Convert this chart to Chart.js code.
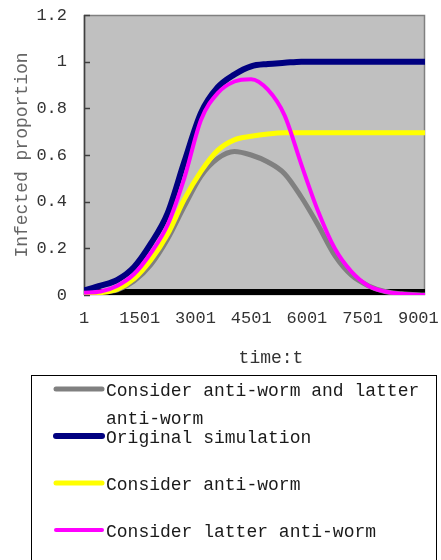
<!DOCTYPE html>
<html>
<head>
<meta charset="utf-8">
<script src="https://cdn.jsdelivr.net/npm/chart.js@4.4.1/dist/chart.umd.min.js"></script>
<style>
  html, body { margin: 0; padding: 0; background: #fff; }
  canvas { display: block; }
</style>
</head>
<body>
<canvas id="chart" width="441" height="560"></canvas>
<script>
// time steps (x) and infected proportion for each simulation
const timeSteps = [1, 450, 900, 1350, 1800, 2250, 2700, 3150, 3600, 4050, 4500,
                   4950, 5400, 5850, 6300, 6750, 7200, 7650, 8100, 8550, 9180];
const bothAntiWorm   = [0.01, 0.012, 0.022, 0.06, 0.13, 0.24, 0.38, 0.51, 0.585, 0.615, 0.6,
                        0.57, 0.52, 0.42, 0.3, 0.17, 0.085, 0.04, 0.015, 0.005, 0];
const originalSim    = [0.02, 0.04, 0.065, 0.12, 0.22, 0.35, 0.57, 0.78, 0.89, 0.945, 0.98,
                        0.99, 0.995, 1, 1, 1, 1, 1, 1, 1, 1];
const antiWorm       = [0.005, 0.01, 0.025, 0.07, 0.15, 0.26, 0.41, 0.53, 0.62, 0.665, 0.68,
                        0.69, 0.695, 0.695, 0.695, 0.695, 0.695, 0.695, 0.695, 0.695, 0.695];
const latterAntiWorm = [0.01, 0.015, 0.04, 0.09, 0.18, 0.3, 0.5, 0.75, 0.865, 0.915, 0.925,
                        0.88, 0.77, 0.56, 0.36, 0.2, 0.1, 0.04, 0.015, 0.005, 0];
// flat black series along the bottom (its legend entry falls outside the picture)
const baselineT = [1, 9180];
const baseline  = [0.013, 0.013];

const seriesNames = ['Consider anti-worm and latter anti-worm', 'Original simulation',
                     'Consider anti-worm', 'Consider latter anti-worm'];
const xTickValues = [1, 1501, 3001, 4501, 6001, 7501, 9001];
const yTickValues = [0, 0.2, 0.4, 0.6, 0.8, 1, 1.2];

const FONT = "'Liberation Mono', monospace";

function pts(xs, ys) {
    return xs.map((x, i) => ({ x: x, y: ys[i] }));
}

function noPad(s) {
    s.paddingLeft = 0;
    s.paddingRight = 0;
    s.paddingTop = 0;
    s.paddingBottom = 0;
}

const plotFrame = {
    id: 'plotFrame',
    beforeDatasetsDraw(chart) {
        const { ctx, chartArea: a } = chart;
        ctx.save();
        ctx.fillStyle = '#c0c0c0';
        ctx.fillRect(a.left, a.top, a.right - a.left, a.bottom - a.top);
        ctx.strokeStyle = '#808080';
        ctx.lineWidth = 1.5;
        ctx.strokeRect(a.left + 0.5, a.top + 0.5, a.right - a.left - 1, a.bottom - a.top - 1);
        // left axis line with inward tick marks
        ctx.strokeStyle = '#404040';
        ctx.lineWidth = 1.5;
        ctx.beginPath();
        ctx.moveTo(a.left + 0.5, a.top);
        ctx.lineTo(a.left + 0.5, a.bottom);
        yTickValues.forEach(v => {
            const py = Math.round(chart.scales.y.getPixelForValue(v)) + 0.5;
            ctx.moveTo(a.left, py);
            ctx.lineTo(a.left + 6, py);
        });
        ctx.stroke();
        ctx.restore();
    },
    afterDraw(chart) {
        const ctx = chart.ctx;
        ctx.save();
        // x axis title
        ctx.font = '18px ' + FONT;
        ctx.fillStyle = '#333';
        ctx.textAlign = 'center';
        ctx.textBaseline = 'middle';
        ctx.fillText('time:t', 271, 358);

        // legend box
        ctx.strokeStyle = '#000';
        ctx.lineWidth = 1;
        ctx.strokeRect(31.5, 375.5, 405, 200);
        ctx.textAlign = 'left';
        ctx.fillStyle = '#1a1a1a';
        const ds = chart.data.datasets.filter(d => seriesNames.includes(d.label));
        ds.forEach((d, i) => {
            const y = 389 + i * 47;
            ctx.strokeStyle = d.borderColor;
            ctx.lineWidth = d.borderWidth;
            ctx.lineCap = 'round';
            ctx.beginPath();
            ctx.moveTo(56, y);
            ctx.lineTo(102, y);
            ctx.stroke();
            // simple word wrap
            const words = d.label.split(' ');
            const lines = [];
            let cur = '';
            words.forEach(w => {
                const test = cur ? cur + ' ' + w : w;
                if (ctx.measureText(test).width > 320 && cur) {
                    lines.push(cur);
                    cur = w;
                } else {
                    cur = test;
                }
            });
            lines.push(cur);
            lines.forEach((ln, k) => ctx.fillText(ln, 106, y + 2 + k * 28));
        });
        ctx.restore();
    }
};

const lineStyle = { pointRadius: 0, fill: false, cubicInterpolationMode: 'monotone' };

new Chart(document.getElementById('chart'), {
    type: 'line',
    data: {
        datasets: [
            { ...lineStyle, label: seriesNames[0], data: pts(timeSteps, bothAntiWorm),
              borderColor: '#808080', borderWidth: 5, order: 4 },
            { ...lineStyle, label: seriesNames[1], data: pts(timeSteps, originalSim),
              borderColor: '#000080', borderWidth: 6, order: 3 },
            { ...lineStyle, label: seriesNames[2], data: pts(timeSteps, antiWorm),
              borderColor: '#ffff00', borderWidth: 5, order: 2 },
            { ...lineStyle, label: seriesNames[3], data: pts(timeSteps, latterAntiWorm),
              borderColor: '#ff00ff', borderWidth: 4, order: 1 },
            { ...lineStyle, label: 'baseline', data: pts(baselineT, baseline),
              borderColor: '#000000', borderWidth: 6, order: 5 }
        ]
    },
    options: {
        responsive: false,
        animation: false,
        layout: { padding: { left: 0, top: 15, right: 16, bottom: 190 } },
        plugins: {
            legend: { display: false },
            tooltip: { enabled: false }
        },
        scales: {
            x: {
                type: 'linear',
                min: 1,
                max: 9180,
                grid: { display: false, drawTicks: false },
                border: { display: false },
                afterBuildTicks: s => { s.ticks = xTickValues.map(v => ({ value: v })); },
                afterFit: s => { s.height = 75; noPad(s); },
                ticks: {
                    padding: 13,
                    maxRotation: 0,
                    autoSkip: false,
                    color: '#333',
                    font: { family: FONT, size: 17 },
                    callback: v => String(v)
                }
            },
            y: {
                min: 0,
                max: 1.2,
                grid: { display: false, drawTicks: false },
                border: { display: false },
                afterBuildTicks: s => { s.ticks = yTickValues.map(v => ({ value: v })); },
                afterFit: s => { s.width = 84; noPad(s); },
                ticks: {
                    padding: 17,
                    color: '#333',
                    font: { family: FONT, size: 17 },
                    callback: v => String(+v.toFixed(1))
                },
                title: {
                    display: true,
                    text: 'Infected proportion',
                    color: '#666',
                    font: { family: FONT, size: 18 },
                    padding: { top: 11, bottom: 0 }
                }
            }
        }
    },
    plugins: [plotFrame]
});
</script>
</body>
</html>
